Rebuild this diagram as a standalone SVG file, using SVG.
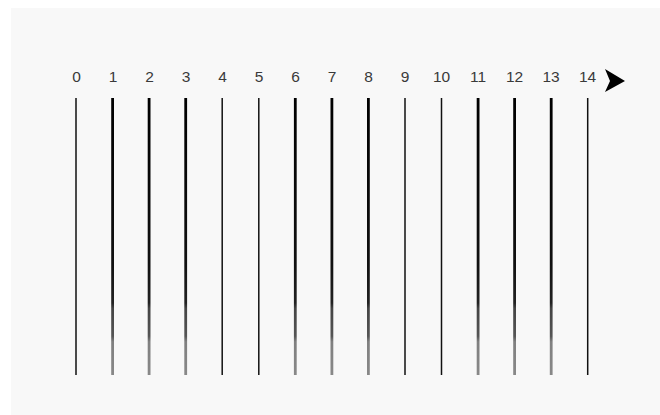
<svg xmlns="http://www.w3.org/2000/svg" width="660" height="415" viewBox="0 0 660 415">
<defs>
<style>
.lbl{font-family:"Liberation Sans",Arial,sans-serif;font-size:15.5px;fill:#3a3a3a;text-anchor:middle}
.thin{stroke:#111;stroke-width:1.5}
.thick{stroke:url(#fade);stroke-width:2.8}
</style>
<linearGradient id="fade" gradientUnits="userSpaceOnUse" x1="0" y1="98" x2="0" y2="375">
<stop offset="0" stop-color="#000"/>
<stop offset="0.6" stop-color="#111"/>
<stop offset="0.74" stop-color="#222"/>
<stop offset="0.76" stop-color="#444"/>
<stop offset="0.86" stop-color="#555"/>
<stop offset="0.88" stop-color="#808080"/>
<stop offset="1" stop-color="#888"/>
</linearGradient>
</defs>
<rect x="0" y="0" width="660" height="415" fill="#fff"/>
<rect x="11" y="8" width="649" height="407" fill="#f8f8f8"/>
<g id="connectors">
<line class="thin" x1="76" y1="98" x2="76" y2="375"/>
<line class="thick" x1="112.6" y1="98" x2="112.6" y2="375"/>
<line class="thick" x1="149.1" y1="98" x2="149.1" y2="375"/>
<line class="thick" x1="185.7" y1="98" x2="185.7" y2="375"/>
<line class="thin" x1="222.2" y1="98" x2="222.2" y2="375"/>
<line class="thin" x1="258.8" y1="98" x2="258.8" y2="375"/>
<line class="thick" x1="295.3" y1="98" x2="295.3" y2="375"/>
<line class="thick" x1="331.9" y1="98" x2="331.9" y2="375"/>
<line class="thick" x1="368.4" y1="98" x2="368.4" y2="375"/>
<line class="thin" x1="405" y1="98" x2="405" y2="375"/>
<line class="thin" x1="441.5" y1="98" x2="441.5" y2="375"/>
<line class="thick" x1="478.1" y1="98" x2="478.1" y2="375"/>
<line class="thick" x1="514.6" y1="98" x2="514.6" y2="375"/>
<line class="thick" x1="551.2" y1="98" x2="551.2" y2="375"/>
<line class="thin" x1="587.7" y1="98" x2="587.7" y2="375"/>
</g>
<g id="labels">
<text class="lbl" x="76.5" y="82">0</text>
<text class="lbl" x="113" y="82">1</text>
<text class="lbl" x="149.5" y="82">2</text>
<text class="lbl" x="186" y="82">3</text>
<text class="lbl" x="222.5" y="82">4</text>
<text class="lbl" x="259" y="82">5</text>
<text class="lbl" x="295.5" y="82">6</text>
<text class="lbl" x="332" y="82">7</text>
<text class="lbl" x="368.5" y="82">8</text>
<text class="lbl" x="405" y="82">9</text>
<text class="lbl" x="441.5" y="82">10</text>
<text class="lbl" x="478" y="82">11</text>
<text class="lbl" x="514.5" y="82">12</text>
<text class="lbl" x="551" y="82">13</text>
<text class="lbl" x="587.5" y="82">14</text>
</g>
<g id="arrow">
<path d="M605,69 L625,81 L605,92 L610,81 Z" fill="#000"/>
</g>
</svg>
